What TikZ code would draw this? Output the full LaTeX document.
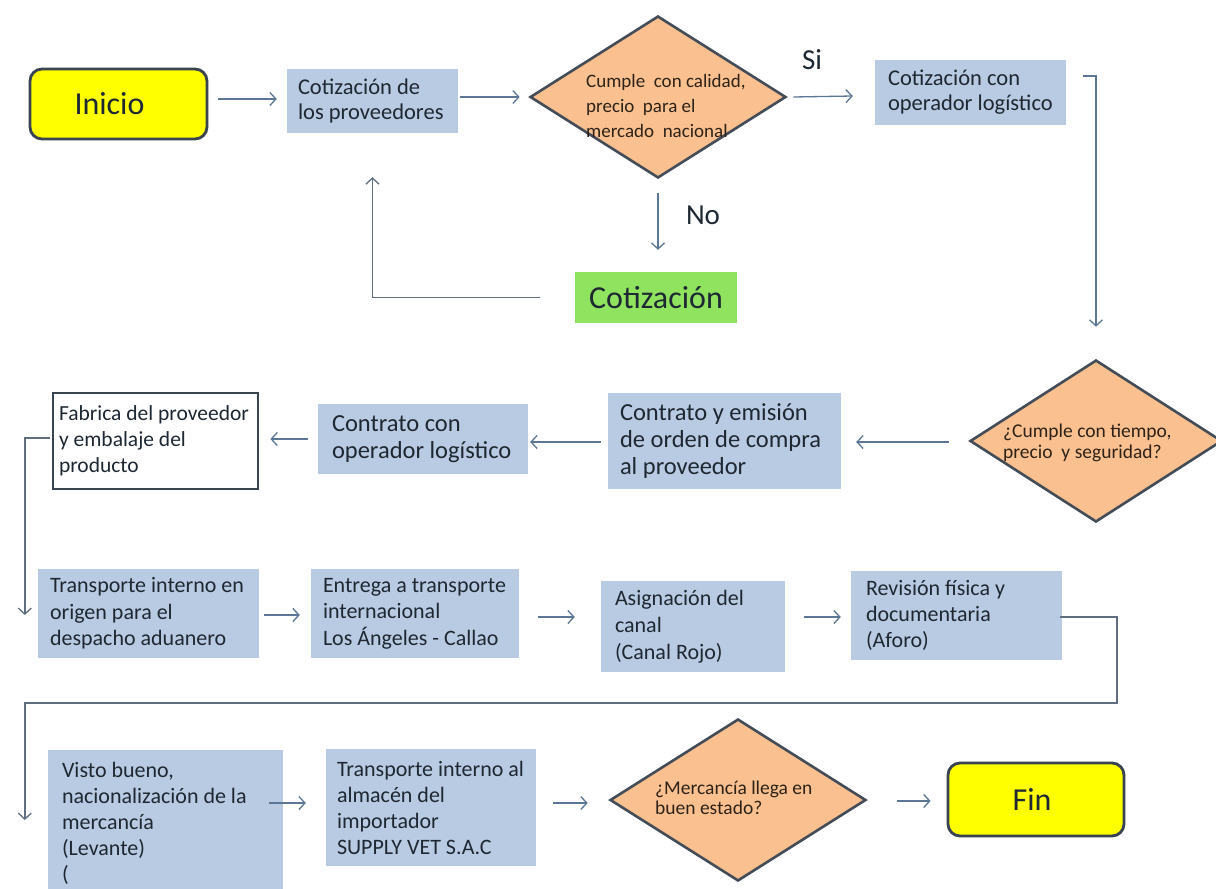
\documentclass[tikz,border=0pt]{standalone}
\usepackage{fontspec}
\setmainfont{Carlito}
\usetikzlibrary{shapes.geometric,arrows.meta,calc}
\definecolor{boxblue}{HTML}{B9CBE2}
\definecolor{diafill}{HTML}{FAC090}
\definecolor{diaborder}{HTML}{434C57}
\definecolor{termborder}{HTML}{3A4450}
\definecolor{termyellow}{HTML}{FFFF00}
\definecolor{cotgreen}{HTML}{8FE35E}
\definecolor{arrowc}{HTML}{5C7795}
\definecolor{elbowc}{HTML}{5F6F80}
\definecolor{txt}{HTML}{1E2833}
\definecolor{dtxt}{HTML}{2E2218}
\tikzset{
  pbox/.style={rectangle, fill=boxblue, align=flush left, inner ysep=0pt, text=txt},
  term/.style={rectangle, rounded corners=12pt, fill=termyellow, draw=termborder, line width=2.8pt, text=txt, font=\fontsize{32}{34}\selectfont},
  dia/.style={diamond, fill=diafill, draw=diaborder, line width=2.6pt, inner sep=0pt},
  dtext/.style={align=flush left, inner sep=0pt, text=dtxt, anchor=west},
  arr/.style={draw=arrowc, line width=1.3pt, -{Straight Barb[length=6pt,width=13pt,line width=1.3pt]}},
  big/.style={font=\fontsize{29}{32}\selectfont, text=txt, inner sep=0pt}
}
\begin{document}
\begin{tikzpicture}[x=1pt,y=-1pt]
\useasboundingbox[fill=white] (0,0) rectangle (1216,889);

% row 1
\node[term, minimum width=177pt, minimum height=70pt] (inicio) at (118.5,104) {\hspace*{-18pt}Inicio};
\node[pbox, minimum width=171pt, minimum height=64pt, inner xsep=11pt, text width=149pt,
      font=\fontsize{22.5}{25}\selectfont] (cot1) at (372.5,101) {Cotización de\\los proveedores};
\node[dia, minimum width=256pt, minimum height=162pt] (d1) at (658,97) {};
\node[dtext, font=\fontsize{19}{25}\selectfont] (d1t) at (586,106) {Cumple\ \ con calidad,\\precio\ \ para el\\mercado\ \ nacional};
\node[pbox, minimum width=191pt, minimum height=65pt, inner xsep=13pt, text width=165pt,
      font=\fontsize{22.5}{25}\selectfont] (cot2) at (970.5,92.5) {Cotización con\\operador logístico};
\node[big] (si) at (812,60) {Si};
\node[big] (no) at (703,215) {No};
\node[rectangle, fill=cotgreen, minimum width=162pt, minimum height=51pt, text=txt,
      font=\fontsize{32}{34}\selectfont] (cot3) at (656,297.5) {Cotización};

% row 2
\node[dia, minimum width=252pt, minimum height=162pt] (d2) at (1096,441) {};
\node[dtext, font=\fontsize{19.5}{20.5}\selectfont] (d2t) at (1003,443) {¿Cumple con tiempo,\\precio\ \ y seguridad?};
\node[pbox, minimum width=233pt, minimum height=96pt, inner xsep=12pt, text width=209pt,
      font=\fontsize{24.5}{27}\selectfont] (cemit) at (724.5,441) {Contrato y emisión\\de orden de compra\\al proveedor};
\node[pbox, minimum width=210pt, minimum height=70pt, inner xsep=14pt, text width=182pt,
      font=\fontsize{24.5}{27}\selectfont] (ccon) at (423,439) {Contrato con\\operador logístico};
\node[pbox, fill=white, draw=termborder, line width=2.8pt, minimum width=205pt, minimum height=96pt,
      inner xsep=6pt, text width=193pt, font=\fontsize{21.5}{26}\selectfont] (fab) at (155.5,441) {Fabrica del proveedor\\y embalaje del\\producto};

% row 3
\node[pbox, minimum width=221pt, minimum height=89pt, inner xsep=12pt, text width=197pt,
      font=\fontsize{22}{26.5}\selectfont] (trans) at (148.5,613.5) {Transporte interno en\\origen para el\\despacho aduanero};
\node[pbox, minimum width=208pt, minimum height=89pt, inner xsep=12pt, text width=184pt,
      font=\fontsize{22}{26.5}\selectfont] (entr) at (415,613.5) {Entrega a transporte\\internacional\\Los Ángeles - Callao};
\node[pbox, minimum width=184pt, minimum height=91pt, inner xsep=14pt, text width=156pt,
      font=\fontsize{22}{27}\selectfont] (asig) at (693,626.5) {Asignación del\\canal\\(Canal Rojo)};
\node[pbox, minimum width=211pt, minimum height=89pt, inner xsep=15pt, text width=181pt,
      font=\fontsize{22}{26}\selectfont] (rev) at (956.5,615.5) {Revisión física y\\documentaria\\(Aforo)};

% row 4
\node[pbox, minimum width=235pt, minimum height=146pt, inner xsep=14pt, text width=207pt,
      font=\fontsize{22}{26}\selectfont] (visto) at (165.5,823) {Visto bueno,\\nacionalización de la\\mercancía\\(Levante)\\(};
\node[pbox, minimum width=210pt, minimum height=117pt, inner xsep=11pt, text width=188pt,
      font=\fontsize{22}{26}\selectfont] (tint) at (431,807.5) {Transporte interno al\\almacén del\\importador\\SUPPLY VET S.A.C};
\node[dia, minimum width=256pt, minimum height=162pt] (d3) at (738,800) {};
\node[dtext, font=\fontsize{19.5}{20}\selectfont] (d3t) at (655,798) {¿Mercancía llega en\\buen estado?};
\node[term, minimum width=176pt, minimum height=73pt] (fin) at (1036,799.5) {\hspace*{-8pt}Fin};

% connectors row 1
\draw[arr] ($(inicio.east)+(10,-5)$) -- ($(cot1.west)+(-10,-2)$);
\draw[arr] ($(cot1.east)+(2,-4)$) -- ($(d1.west)+(-9,0)$);
\draw[arr] ($(d1.east)+(6,0)$) -- ($(cot2.west)+(-22,3.5)$);
\draw[arr] ($(d1.south)+(0,14)$) -- ($(cot3.north)+(2,-22)$);
\draw[arr, draw=elbowc, line width=1.6pt] ($(cot3.west)+(-35,0)$) -| ($(cot1.south)+(0,44)$);
\draw[arr, line width=1.8pt] ($(cot2.east)+(17,-16.5)$) -| ($(d2.north)+(0,-32)$);

% connectors row 2
\draw[arr] ($(d2.west)+(-20,1)$) -- ($(cemit.east)+(15,1)$);
\draw[arr] ($(cemit.west)+(-7,1)$) -- ($(ccon.east)+(2,3)$);
\draw[arr] ($(ccon.west)+(-10,0)$) -- ($(fab.east)+(11,-2)$);
\draw[arr, draw=elbowc, line width=1.8pt] ($(fab.west)+(-2,-3)$) -| ($(trans.west)+(-13,1.5)$);

% connectors row 3
\draw[arr] ($(trans.east)+(5,1.5)$) -- ($(entr.west)+(-11,1.5)$);
\draw[arr] ($(entr.east)+(19,3.5)$) -- ($(asig.west)+(-26,-9.5)$);
\draw[arr] ($(asig.east)+(19,-9.5)$) -- ($(rev.west)+(-10,1.5)$);
\coordinate (bendR) at (1117,703);
\draw[arr, draw=elbowc, line width=2.2pt] ($(rev.east)+(-2,1.5)$) -| (bendR) -| ($(visto.west)+(-23,-3)$);

% connectors row 4
\draw[arr] ($(visto.east)+(-14,-20)$) -- ($(tint.west)+(-20,-4.5)$);
\draw[arr] ($(tint.east)+(17,-4.5)$) -- ($(d3.west)+(-21,3)$);
\draw[arr] ($(d3.east)+(30,1)$) -- ($(fin.west)+(-16,1.5)$);
\end{tikzpicture}
\end{document}
